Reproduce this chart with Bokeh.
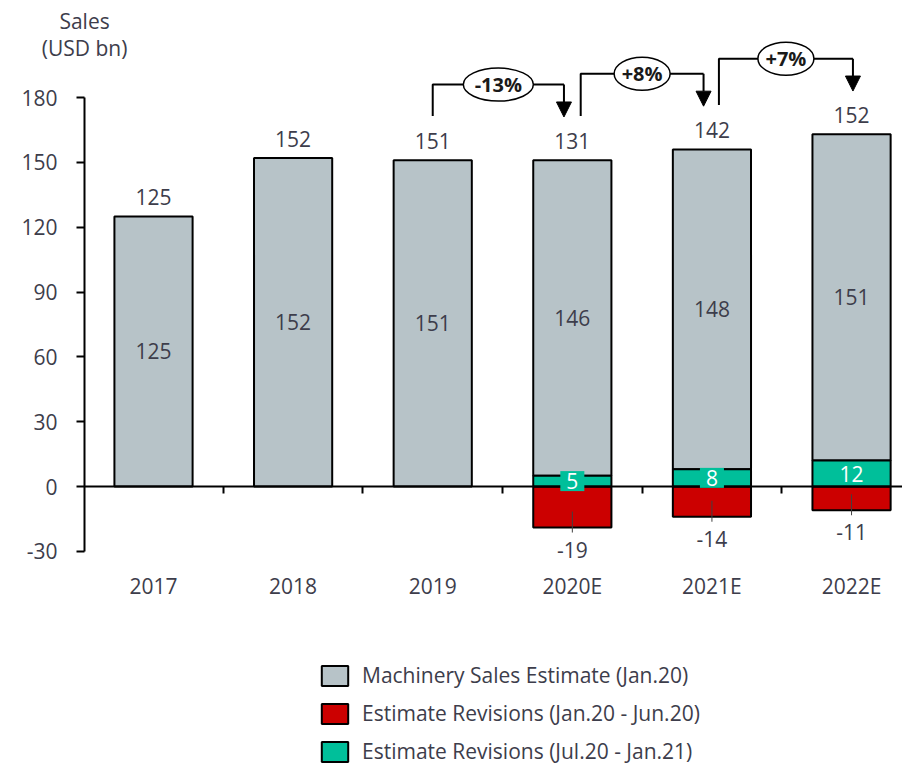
from bokeh.plotting import figure
from bokeh.models import Range1d, FixedTicker, Label, Legend, LegendItem, Arrow, NormalHead
from bokeh.core.properties import value
from bokeh.embed import file_html
from bokeh.resources import INLINE

# ---------------- data ----------------
years = ["2017", "2018", "2019", "2020E", "2021E", "2022E"]
machinery_sales = [125, 152, 151, 146, 148, 151]          # Machinery Sales Estimate (Jan.20)
revisions_jan_jun = [None, None, None, -19, -14, -11]      # Estimate Revisions (Jan.20 - Jun.20)
revisions_jul_jan = [None, None, None, 5, 8, 12]           # Estimate Revisions (Jul.20 - Jan.21)
total_labels = [125, 152, 151, 131, 142, 152]
yoy_changes = ["-13%", "+8%", "+7%"]                       # 2019->2020E, 2020E->2021E, 2021E->2022E
y_ticks = [-30, 0, 30, 60, 90, 120, 150, 180]
legend_labels = ["Machinery Sales Estimate (Jan.20)",
                 "Estimate Revisions (Jan.20 - Jun.20)",
                 "Estimate Revisions (Jul.20 - Jan.21)"]

# ---------------- style ----------------
FONT = "Open Sans"
TXT = "#3d3d4b"
GREY = "#b7c3c8"
RED = "#cc0000"
TEAL = "#00bf9a"
FS = "21px"

xs = list(range(len(years)))
teal_base = [t if t is not None else 0 for t in revisions_jul_jan]
grey_bottom = teal_base
grey_top = [b + m for b, m in zip(grey_bottom, machinery_sales)]
fx = [i for i in xs if revisions_jan_jun[i] is not None]
red_vals = [revisions_jan_jun[i] for i in fx]
teal_vals = [revisions_jul_jan[i] for i in fx]

X0 = -0.494   # where the value axis stands
p = figure(width=902, height=765,
           x_range=Range1d(-1.096, 5.365), y_range=Range1d(-129.1, 224.9),
           x_axis_location="below", y_axis_location="left",
           output_backend="svg", toolbar_location=None,
           min_border_left=0, min_border_right=0, min_border_top=0, min_border_bottom=0)
p.outline_line_color = None
p.xgrid.visible = False
p.ygrid.visible = False
p.background_fill_color = "white"

ya = p.yaxis[0]
ya.fixed_location = X0
ya.ticker = FixedTicker(ticks=y_ticks)
ya.major_label_overrides = {v: str(v) for v in y_ticks}
ya.bounds = (-30, 180)
ya.major_tick_in = 0
ya.major_tick_out = 8
ya.minor_tick_in = 0
ya.minor_tick_out = 0
ya.axis_line_width = 2
ya.major_tick_line_width = 2
ya.axis_line_color = "black"
ya.major_tick_line_color = "black"
ya.major_label_text_font = FONT
ya.major_label_text_font_size = FS
ya.major_label_text_color = TXT
ya.major_label_standoff = 19

xa = p.xaxis[0]
xa.fixed_location = 0
xa.ticker = FixedTicker(ticks=xs, minor_ticks=[i + 0.5 for i in xs])
xa.major_label_overrides = {i: y for i, y in zip(xs, years)}
xa.bounds = (X0, 5.365)
xa.major_tick_in = 0
xa.major_tick_out = 0
xa.minor_tick_in = 0
xa.minor_tick_out = 7
xa.minor_tick_line_width = 2
xa.minor_tick_line_color = "black"
xa.axis_line_width = 2
xa.axis_line_color = "black"
xa.major_label_text_font = FONT
xa.major_label_text_font_size = FS
xa.major_label_text_color = TXT
xa.major_label_standoff = 78

BW = 0.56
grey_r = p.vbar(x=xs, bottom=grey_bottom, top=grey_top, width=BW,
                fill_color=GREY, line_color="black", line_width=2)
red_r = p.vbar(x=fx, bottom=red_vals, top=0, width=BW,
               fill_color=RED, line_color="black", line_width=2)
teal_r = p.vbar(x=fx, bottom=0, top=teal_vals, width=BW,
                fill_color=TEAL, line_color="black", line_width=2)

# labels inside grey bars
p.text(x=xs, y=[(b + t) / 2 for b, t in zip(grey_bottom, grey_top)],
       text=[str(v) for v in machinery_sales], text_align="center", text_baseline="middle",
       text_font=value(FONT), text_font_size=FS, text_color=TXT)

# totals above bars
p.text(x=xs, y=[t + 8.8 for t in grey_top], text=[str(v) for v in total_labels],
       text_align="center", text_baseline="middle",
       text_font=value(FONT), text_font_size=FS, text_color=TXT)

# red labels with leaders
p.segment(x0=fx, y0=[r + 7.4 for r in red_vals], x1=fx, y1=[r - 2.3 for r in red_vals],
          line_color="#404040", line_width=1)
p.text(x=fx, y=[r - 10.2 for r in red_vals], text=[str(v) for v in red_vals],
       text_align="center", text_baseline="middle",
       text_font=value(FONT), text_font_size=FS, text_color=TXT)

# teal labels
tl = p.text(x=fx, y=[t / 2 for t in teal_vals], text=[str(v) for v in teal_vals],
            text_align="center", text_baseline="middle",
            text_font=value(FONT), text_font_size=FS, text_color="white",
            background_fill_color=TEAL, padding=(6, 2))
tl.level = "overlay"

# change connectors
left_off = [0.0, 0.06, 0.05]
right_off = [-0.06, -0.06, 0.01]
first = years.index("2019")
for k, lab in enumerate(yoy_changes):
    a = first + k
    b = a + 1
    xl = a + left_off[k]
    xr = b + right_off[k]
    start = grey_top[a] + 20.5
    tip = grey_top[b] + 20
    top = max(grey_top[a], grey_top[b]) + 35
    p.line(x=[xl, xl, xr], y=[start, top, top], line_color="black", line_width=2)
    p.add_layout(Arrow(x_start=xr, y_start=top, x_end=xr, y_end=tip, line_color="black",
                       line_width=2, end=NormalHead(size=15, fill_color="black", line_color="black")))
    e = p.ellipse(x=[(xl + xr) / 2], y=[top], width=[14 * len(lab) + 14], height=[33],
                  width_units="screen", height_units="screen",
                  fill_color="white", line_color="black", line_width=1.5)
    e.level = "overlay"
    t = p.text(x=[(xl + xr) / 2], y=[top], text=[lab], text_align="center", text_baseline="middle",
               text_font=value(FONT), text_font_size="20px", text_font_style="bold",
               text_color="#1a1a1a")
    t.level = "overlay"

# axis title
p.add_layout(Label(x=X0, y=215.6, text="Sales", text_align="center", text_baseline="middle",
                   text_font=FONT, text_font_size=FS, text_color=TXT))
p.add_layout(Label(x=X0, y=202.7, text="(USD bn)", text_align="center", text_baseline="middle",
                   text_font=FONT, text_font_size=FS, text_color=TXT))

legend = Legend(items=[LegendItem(label=legend_labels[0], renderers=[grey_r]),
                       LegendItem(label=legend_labels[1], renderers=[red_r]),
                       LegendItem(label=legend_labels[2], renderers=[teal_r])],
                location=(318, 0), orientation="vertical",
                glyph_width=33, glyph_height=25, label_standoff=11, spacing=10,
                padding=0, margin=0, border_line_color=None, background_fill_alpha=0,
                label_text_font=FONT, label_text_font_size=FS, label_text_color=TXT)
p.add_layout(legend)

open("out.html", "w").write(file_html(p, INLINE))
